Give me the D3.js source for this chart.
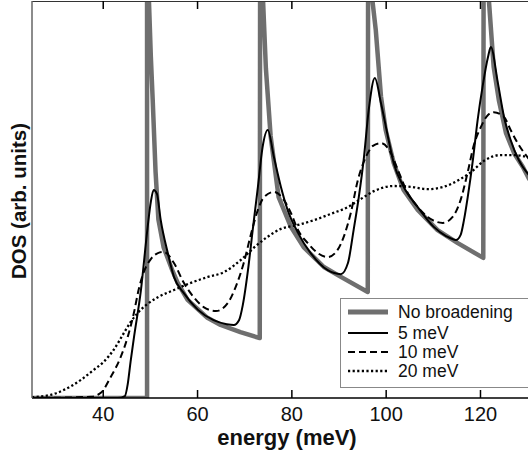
<!DOCTYPE html>
<html><head><meta charset="utf-8">
<script src="https://cdn.jsdelivr.net/npm/d3@7"></script>
<style>body{margin:0;background:#fff} svg{display:block}</style>
</head><body><svg id="c" width="528" height="457"></svg>
<script>
const xTicks = [40, 60, 80, 100, 120];
const seriesNames = ["No broadening", "5 meV", "10 meV", "20 meV"];

// [energy (meV), DOS (arb. units)]
const noBroadening = [
  [25,0],[49.4,0],[49.4,14],[49.8,10],[50.2,8.6],[50.6,7.5],[51.2,5.7],[51.8,4.5],[52.9,3.8],[54.8,3.2],[55.9,2.9],[58.0,2.47],[62.2,2.02],[65.0,1.84],[69.2,1.66],[73.3,1.51],
  [73.4,14],[74.0,10],[74.6,8.3],[75.6,6.6],[77.3,5.06],[79.9,4.31],[82.6,3.8],[86.9,3.3],[90.5,3.05],[96.2,2.67],
  [96.3,14],[97.2,10],[97.9,9.27],[99.0,7.6],[100.0,6.75],[101.7,5.92],[103.8,5.24],[106.8,4.74],[111.0,4.23],[115.3,3.9],[120.7,3.53],
  [120.8,14],[121.9,10],[122.9,8.34],[124.0,7.5],[125.5,6.68],[127.3,6.15],[129.1,5.82],[130.5,5.5]
];
const broad5 = [
  [25,0],[43.2,0],[44.7,0.05],[45.3,0.35],[45.9,0.91],[46.6,1.51],[48.1,2.72],[49.5,4.28],[50.2,4.94],[50.8,5.24],[51.5,5.14],[52.3,4.48],[53.8,3.65],[55.1,3.05],[57.2,2.64],[60.2,2.22],[63.5,1.96],[66.3,1.86],[67.8,1.84],[68.9,1.96],[69.7,2.34],[70.8,3.22],[71.8,4.23],[72.9,5.31],[73.9,6.32],
  [75.0,6.75],[76.3,6.07],[77.8,5.31],[79.2,4.74],[81.4,4.16],[84.1,3.65],[87.7,3.22],[90.5,3.12],[92.0,3.4],[93.2,4.23],[94.3,5.06],[95.4,6.07],[96.4,7.25],
  [97.7,8.06],[99.0,7.43],[100.5,6.57],[101.7,5.92],[103.8,5.32],[106.8,4.81],[110.2,4.31],[112.8,4.08],[114.9,3.98],[115.9,4.11],[116.6,4.48],[117.4,5.06],[118.5,6.0],[119.5,7.0],[120.6,7.88],[121.7,8.59],
  [122.3,8.84],[123.8,7.93],[125.1,7.08],[126.5,6.5],[128.2,6.0],[130.5,5.6]
];
const broad10 = [
  [25,0],[37.5,0.03],[39.6,0.13],[41.7,0.53],[43.8,1.03],[45.3,1.54],[46.6,2.14],[47.6,2.72],[48.7,3.17],[50.2,3.5],[51.7,3.65],[52.9,3.68],[55.1,3.4],[57.2,2.9],[59.3,2.54],[61.4,2.29],[64.0,2.19],[66.5,2.39],[68.2,2.8],[69.9,3.4],[71.4,4.11],[72.9,4.74],[74.2,5.06],
  [76.3,5.19],[78.4,4.99],[79.9,4.66],[81.4,4.23],[83.5,3.9],[85.6,3.65],[87.7,3.55],[89.8,3.73],[91.1,4.06],[92.6,4.66],[94.1,5.49],[95.8,6.07],[97.3,6.35],
  [99.0,6.42],[101.1,6.17],[102.6,5.74],[104.7,5.16],[106.8,4.81],[108.9,4.56],[112.1,4.41],[114.2,4.56],[115.9,4.99],[117.4,5.69],[118.7,6.37],[120.2,6.83],[121.7,7.13],
  [122.9,7.2],[125.1,7.08],[126.5,6.75],[128.0,6.42],[130.5,6.0]
];
const broad20 = [
  [25,0.02],[29.0,0.08],[31.7,0.2],[35.3,0.45],[38.1,0.71],[40.2,0.91],[42.3,1.21],[44.5,1.64],[45.9,1.91],[47.4,2.14],[49.5,2.37],[51.7,2.54],[55.1,2.72],[58.7,2.9],[62.3,3.05],[65.7,3.17],[69.3,3.48],[72.0,3.78],[74.6,4.03],[77.8,4.26],
  [81.4,4.36],[84.8,4.48],[88.4,4.64],[92.0,4.81],[94.7,5.01],[97.5,5.21],[101.7,5.34],[105.3,5.32],[108.9,5.26],[112.3,5.32],[115.9,5.52],[118.1,5.69],[120.8,5.97],[124.4,6.12],[127.2,6.12],[130.5,6.06]
];

const W = 528, H = 457;
const pL = 32, pT = 1, pB = 398, pR = 529.5;
const svg = d3.select("#c");
const x = d3.scaleLinear().domain([25, 130.5]).range([pL, pR]);
const y = d3.scaleLinear().domain([0, 10]).range([pB, pT]);
const font = "'Liberation Sans', Arial, Helvetica, sans-serif";

svg.append("defs").append("clipPath").attr("id", "clip")
  .append("rect").attr("x", pL).attr("y", pT).attr("width", pR - pL).attr("height", pB - pT);

const g = svg.append("g").attr("clip-path", "url(#clip)");
const lineLin = d3.line().x(d => x(d[0])).y(d => y(d[1]));
const lineSmooth = d3.line().x(d => x(d[0])).y(d => y(d[1])).curve(d3.curveMonotoneX);

g.append("path").datum(noBroadening).attr("d", lineLin)
  .attr("fill", "none").attr("stroke", "#6f6f6f").attr("stroke-width", 4.5).attr("stroke-linejoin", "round");
g.append("path").datum(broad20).attr("d", lineSmooth)
  .attr("fill", "none").attr("stroke", "#000").attr("stroke-width", 2.3).attr("stroke-dasharray", "2.2,2.4");
g.append("path").datum(broad10).attr("d", lineSmooth)
  .attr("fill", "none").attr("stroke", "#000").attr("stroke-width", 2).attr("stroke-dasharray", "7,4");
g.append("path").datum(broad5).attr("d", lineSmooth)
  .attr("fill", "none").attr("stroke", "#000").attr("stroke-width", 2);

// frame
svg.append("line").attr("x1", pL).attr("x2", W).attr("y1", pT + 0.5).attr("y2", pT + 0.5).attr("stroke", "#333").attr("stroke-width", 1);
svg.append("line").attr("x1", pL).attr("x2", W).attr("y1", pB).attr("y2", pB).attr("stroke", "#000").attr("stroke-width", 1.5);
svg.append("line").attr("x1", pL).attr("x2", pL).attr("y1", pT).attr("y2", pB).attr("stroke", "#666").attr("stroke-width", 1.5);

// axes
const ax = svg.append("g").attr("transform", `translate(0,${pB})`)
  .call(d3.axisBottom(x).tickValues(xTicks).tickSize(-8).tickSizeOuter(0).tickPadding(9));
ax.select(".domain").remove();
ax.selectAll("line").attr("stroke", "#000").attr("stroke-width", 1.5);
ax.selectAll("text").attr("font-family", font).attr("font-size", 20).attr("fill", "#111");

const axT = svg.append("g").attr("transform", `translate(0,${pT})`)
  .call(d3.axisTop(x).tickValues(xTicks).tickSize(-8).tickSizeOuter(0).tickFormat(""));
axT.select(".domain").remove();
axT.selectAll("line").attr("stroke", "#000").attr("stroke-width", 1.5);

svg.append("text").attr("x", 287).attr("y", 445).attr("text-anchor", "middle")
  .attr("font-family", font).attr("font-weight", "bold").attr("font-size", 22).attr("fill", "#111")
  .text("energy (meV)");
svg.append("text").attr("transform", "translate(26,201) rotate(-90)").attr("text-anchor", "middle")
  .attr("font-family", font).attr("font-weight", "bold").attr("font-size", 20.5).attr("fill", "#111")
  .text("DOS (arb. units)");

// legend
const lg = svg.append("g");
lg.append("rect").attr("x", 340.5).attr("y", 298.5).attr("width", 200).attr("height", 89)
  .attr("fill", "#fff").attr("stroke", "#888").attr("stroke-width", 1);
const styles = [
  {stroke: "#6f6f6f", w: 5, dash: null},
  {stroke: "#000", w: 2, dash: null},
  {stroke: "#000", w: 2, dash: "7,4"},
  {stroke: "#000", w: 2.3, dash: "2.2,2.4"}
];
const rowY = [312, 333, 352, 371];
seriesNames.forEach((name, i) => {
  const l = lg.append("line").attr("x1", 348).attr("x2", 388).attr("y1", rowY[i]).attr("y2", rowY[i])
    .attr("stroke", styles[i].stroke).attr("stroke-width", styles[i].w);
  if (styles[i].dash) l.attr("stroke-dasharray", styles[i].dash);
  lg.append("text").attr("x", 398).attr("y", rowY[i] + 6.3)
    .attr("font-family", font).attr("font-size", 17.5).attr("fill", "#111").text(name);
});
</script>
</body></html>
